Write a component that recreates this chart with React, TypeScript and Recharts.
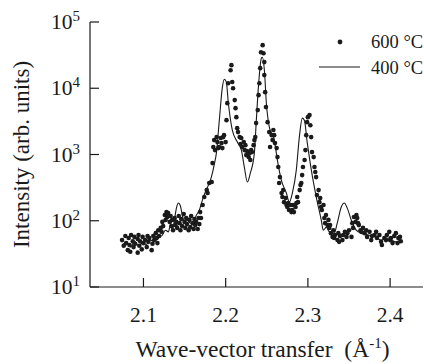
import { ComposedChart, Line, Scatter, XAxis, YAxis, Legend, Label } from 'recharts'

// 600 °C points (wave-vector transfer, intensity)
const q600 = [
  2.074, 2.076, 2.078, 2.079, 2.081, 2.082, 2.083, 2.084, 2.085, 2.087, 2.088, 2.089, 2.090, 2.093, 2.093, 2.094, 2.095, 2.096, 2.098, 2.099,
  2.100, 2.102, 2.104, 2.105, 2.106, 2.107, 2.110, 2.111, 2.112, 2.113, 2.115, 2.116, 2.117, 2.118, 2.119, 2.121, 2.122, 2.123,
  2.124, 2.126, 2.127, 2.128, 2.129, 2.130, 2.132, 2.133, 2.134, 2.135, 2.136, 2.138, 2.139, 2.140, 2.141, 2.143, 2.144, 2.145, 2.146, 2.147,
  2.149, 2.150, 2.151, 2.152, 2.153, 2.155, 2.156, 2.157, 2.158, 2.160, 2.161, 2.162, 2.163, 2.164, 2.166, 2.167, 2.168, 2.169, 2.170,
  2.172, 2.174, 2.177, 2.178, 2.180, 2.183, 2.184, 2.185, 2.186, 2.187, 2.189, 2.190, 2.191, 2.192, 2.194, 2.195, 2.196, 2.197, 2.198, 2.200,
  2.201, 2.202, 2.203, 2.206, 2.207, 2.208, 2.209,
  2.211, 2.212, 2.213, 2.214, 2.215, 2.217, 2.218, 2.219, 2.220, 2.222, 2.223, 2.224, 2.225, 2.226, 2.228, 2.229, 2.230, 2.231, 2.232, 2.234, 2.235, 2.236,
  2.237, 2.239, 2.240, 2.241, 2.242, 2.243, 2.245, 2.246, 2.247, 2.247, 2.248, 2.249, 2.251,
  2.253, 2.254, 2.256, 2.257, 2.258, 2.259, 2.260, 2.262, 2.263, 2.264, 2.265, 2.266, 2.268, 2.269, 2.270, 2.271, 2.273, 2.274, 2.275, 2.276,
  2.277, 2.279, 2.280, 2.281, 2.282, 2.283, 2.285, 2.286, 2.287, 2.288, 2.290, 2.291, 2.292, 2.293, 2.294, 2.296, 2.297, 2.298, 2.299, 2.300, 2.302,
  2.303, 2.304, 2.305, 2.307, 2.308, 2.309, 2.310, 2.311, 2.313, 2.314, 2.315, 2.316, 2.317, 2.319, 2.320, 2.321, 2.322, 2.324, 2.325, 2.326,
  2.327, 2.328, 2.330, 2.331, 2.332, 2.333, 2.336, 2.337, 2.338, 2.339, 2.342, 2.343, 2.345, 2.347, 2.348, 2.350,
  2.353, 2.354, 2.355, 2.356, 2.358, 2.359, 2.360, 2.361, 2.362, 2.364, 2.365, 2.367, 2.369, 2.371, 2.372, 2.375, 2.377, 2.378, 2.381,
  2.383, 2.384, 2.387, 2.389, 2.390, 2.393, 2.395, 2.396, 2.399, 2.400, 2.401, 2.403, 2.405, 2.407, 2.409, 2.410, 2.412, 2.413,
]
const i600 = [
  51, 42, 59, 46, 36, 55, 43, 34, 61, 49, 40, 57, 45, 33, 53, 61, 42, 49, 37, 57,
  46, 51, 40, 59, 48, 55, 36, 45, 59, 51, 65, 55, 46, 72, 59, 78, 68, 96,
  83, 122, 103, 135, 114, 131, 96, 118, 83, 103, 72, 110, 86, 96, 78, 118, 92, 72, 106, 83,
  126, 96, 78, 110, 89, 72, 103, 80, 118, 92, 75, 106, 86, 96, 75, 110, 89, 135, 110,
  173, 228, 290, 262, 371, 384, 742, 1295, 1650, 1165, 1830, 1540, 1250, 1295, 1770, 1485, 1250, 1830, 1960, 1540,
  3300, 5960, 11900, 18700, 22300, 12400, 10000,
  6620, 5010, 3660, 2500, 2180, 1830, 1435, 1770, 1295, 1540, 1165, 1385, 980, 1125, 914, 1050, 824, 1165, 1087, 1385, 1650, 1830,
  2980, 4680, 7870, 11900, 20100, 35000, 44700, 33800, 24800, 15800, 8730, 5190, 3080,
  2180, 1295, 1960, 1650, 2340, 1960, 1485, 1250, 914, 646, 371, 456, 262, 228, 290, 191, 220, 173, 161, 185,
  145, 173, 135, 145, 173, 135, 161, 185, 228, 191, 290, 345, 371, 489, 646, 824, 1165, 1960, 3080, 3660, 3930,
  2770, 1830, 1087, 914, 646, 543, 456, 244, 290, 191, 220, 161, 145, 173, 110, 92, 122, 86, 103, 78,
  86, 65, 57, 72, 55, 61, 51, 65, 48, 59, 51, 61, 68, 57, 65, 72,
  57, 92, 78, 114, 96, 122, 110, 92, 86, 72, 68, 78, 65, 72, 57, 68, 51, 59, 61,
  68, 55, 61, 48, 43, 55, 51, 61, 68, 51, 55, 46, 59, 65, 46, 55, 57, 49,
]

// 400 °C curve
const q400 = [
  2.0745, 2.0793, 2.0842, 2.0891, 2.0939, 2.0988, 2.1036, 2.1085, 2.1134, 2.1182, 2.1231, 2.1267, 2.1304, 2.1328, 2.1352, 2.1377,
  2.1401, 2.1425, 2.1450, 2.1474, 2.1498, 2.1535, 2.1571, 2.1608, 2.1644, 2.1680, 2.1717, 2.1753, 2.1790, 2.1826, 2.1863,
  2.1887, 2.1923, 2.1960, 2.1984, 2.2008, 2.2033, 2.2081, 2.2142, 2.2191, 2.2227, 2.2264, 2.2300, 2.2349, 2.2373, 2.2398,
  2.2434, 2.2446, 2.2471, 2.2495, 2.2531, 2.2592, 2.2629, 2.2677, 2.2738, 2.2774, 2.2811, 2.2859, 2.2896, 2.2932, 2.2957,
  2.2993, 2.3042, 2.3102, 2.3163, 2.3187, 2.3224, 2.3260, 2.3321, 2.3357, 2.3406, 2.3442, 2.3479, 2.3528, 2.3588, 2.3649,
  2.3734, 2.3819, 2.3892, 2.3977, 2.4063, 2.4124,
]
const i400 = [
  43, 48, 40, 49, 42, 46, 44, 51, 49, 55, 61, 72, 68, 86, 72, 103,
  155, 185, 167, 118, 96, 102, 92, 96, 122, 145, 205, 271, 345, 456, 720,
  1050, 3300, 10400, 13700, 12400, 5950, 2330, 1540, 1165, 646, 384, 524, 1050, 3300, 10400,
  28400, 29400, 18700, 5950, 2590, 1650, 822, 411, 262, 191, 262, 582, 1830, 3540, 3300,
  1485, 582, 228, 102, 72, 80, 68, 65, 92, 161, 185, 155, 102, 72, 65,
  61, 57, 51, 55, 48, 51,
]

const xTicks = [2.1, 2.2, 2.3, 2.4]
const yTicks = [10, 100, 1000, 10000, 100000]

const pts600 = q600.map((q, k) => ({ q, i: i600[k] }))
const pts400 = q400.map((q, k) => ({ q, i: i400[k] }))

const FONT = '"Liberation Serif", "DejaVu Serif", serif'
const INK = '#1a1a1a'

function LeftTick({ x, y, payload }: any) {
  const e = Math.round(Math.log10(payload.value))
  return (
    <g>
      <line x1={x} x2={x + 9} y1={y} y2={y} stroke={INK} strokeWidth={1.2} />
      <text x={x - 10} y={y + 7} textAnchor="end" fontFamily={FONT} fontSize={21.5} fill={INK}>
        10<tspan fontSize={15} dy={-8}>{e}</tspan>
      </text>
    </g>
  )
}

function RightTick({ x, y }: any) {
  return <line x1={x - 8} x2={x} y1={y} y2={y} stroke={INK} strokeWidth={1.2} />
}

function BottomTick({ x, y, payload }: any) {
  return (
    <g>
      <line x1={x} x2={x} y1={y} y2={y - 9} stroke={INK} strokeWidth={1.2} />
      <text x={x} y={y + 35} textAnchor="middle" fontFamily={FONT} fontSize={21.5} fill={INK}>
        {payload.value.toFixed(1)}
      </text>
    </g>
  )
}

function YTitle({ viewBox }: any) {
  const cx = viewBox.x + 29
  const cy = viewBox.y + viewBox.height / 2
  return (
    <text x={cx} y={cy} transform={`rotate(-90, ${cx}, ${cy})`} textAnchor="middle" fontFamily={FONT} fontSize={23} fill={INK}>
      Intensity (arb. units)
    </text>
  )
}

function XTitle({ viewBox }: any) {
  return (
    <text x={viewBox.x + viewBox.width / 2 + 6} y={viewBox.y + 70} textAnchor="middle" fontFamily={FONT} fontSize={23.5} fill={INK}>
      Wave-vector transfer{'\u00a0\u00a0'}(Å<tspan fontSize={15} dy={-9}>-1</tspan><tspan dy={9}>)</tspan>
    </text>
  )
}

function LegendBox() {
  return (
    <svg width={110} height={52}>
      <circle cx={24} cy={12} r={2.4} fill={INK} />
      <text x={55} y={18} fontFamily={FONT} fontSize={18.5} fill={INK}>600 °C</text>
      <line x1={3} x2={44} y1={37} y2={37} stroke={INK} strokeWidth={1.1} />
      <text x={55} y={44} fontFamily={FONT} fontSize={18.5} fill={INK}>400 °C</text>
    </svg>
  )
}

const Dot = (p: any) => <circle cx={p.cx} cy={p.cy} r={2.3} fill={INK} />

export default function App() {
  return (
    <div style={{ position: 'absolute', left: 0, top: 0, width: 424, height: 364, overflow: 'hidden', background: '#fff' }}>
      <ComposedChart width={424} height={364} margin={{ top: 22, right: 1, bottom: 0, left: 0 }}>
        <XAxis
          dataKey="q"
          type="number"
          domain={[2.035, 2.44]}
          ticks={xTicks}
          allowDataOverflow
          height={77}
          tickSize={0}
          tickMargin={0}
          tick={<BottomTick />}
          axisLine={{ stroke: INK, strokeWidth: 1.2 }}
        >
          <Label content={<XTitle />} />
        </XAxis>
        <XAxis
          xAxisId="top"
          orientation="top"
          type="number"
          domain={[2.035, 2.44]}
          height={0}
          tick={false}
          tickLine={false}
          axisLine={{ stroke: INK, strokeWidth: 1.2 }}
        />
        <YAxis
          scale="log"
          type="number"
          domain={[10, 100000]}
          ticks={yTicks}
          allowDataOverflow
          width={90}
          tickSize={0}
          tickMargin={0}
          tick={<LeftTick />}
          axisLine={{ stroke: INK, strokeWidth: 1.2 }}
        >
          <Label content={<YTitle />} />
        </YAxis>
        <YAxis
          yAxisId="right"
          orientation="right"
          scale="log"
          type="number"
          domain={[10, 100000]}
          ticks={yTicks}
          allowDataOverflow
          width={0}
          tickSize={0}
          tickMargin={0}
          tick={<RightTick />}
          axisLine={{ stroke: INK, strokeWidth: 1.2 }}
        />
        <Legend
          layout="horizontal"
          verticalAlign="middle"
          align="center"
          wrapperStyle={{ left: 316, top: 30, width: 110, height: 52 }}
          content={<LegendBox />}
        />
        <Line
          data={pts400}
          dataKey="i"
          type="monotone"
          stroke={INK}
          strokeWidth={1.1}
          dot={false}
          isAnimationActive={false}
        />
        <Scatter data={pts600} dataKey="i" shape={<Dot />} isAnimationActive={false} />
      </ComposedChart>
    </div>
  )
}
